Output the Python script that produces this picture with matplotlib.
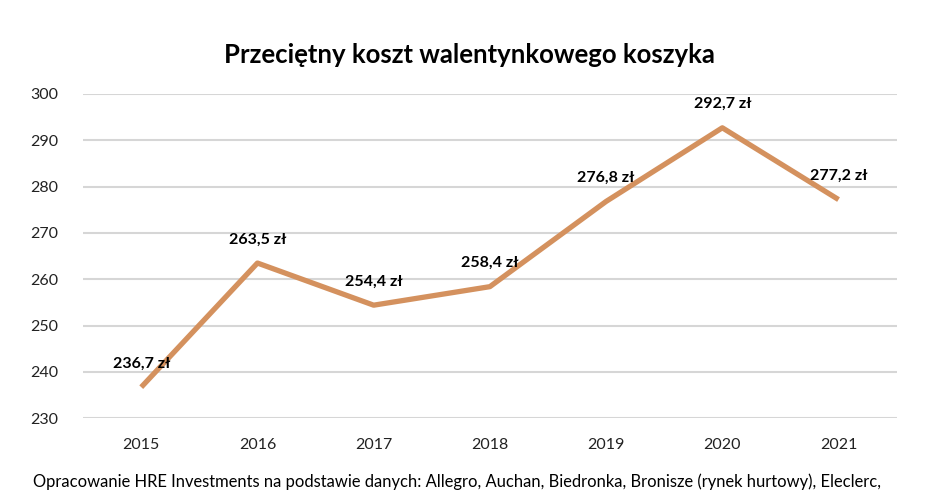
import matplotlib
matplotlib.use("Agg")
import matplotlib.pyplot as plt

plt.rcParams['font.family'] = ['Liberation Sans Narrow', 'Lato', 'DejaVu Sans']

years = ['2015', '2016', '2017', '2018', '2019', '2020', '2021']
cost = [236.7, 263.5, 254.4, 258.4, 276.8, 292.7, 277.2]
labels = ['236,7 zł', '263,5 zł', '254,4 zł', '258,4 zł', '276,8 zł', '292,7 zł', '277,2 zł']
yticks = [230, 240, 250, 260, 270, 280, 290, 300]

fig = plt.figure(figsize=(9.34, 4.92), dpi=100)
ax = fig.add_axes([0.089, 0.150, 0.871, 0.659])

x = list(range(len(years)))
ax.plot(x, cost, color='#D4915E', lw=3.8, solid_capstyle='butt', zorder=3)

for xi, yi, lab in zip(x, cost, labels):
    ax.annotate(lab, (xi, yi), xytext=(0, 17), textcoords='offset points',
                ha='center', va='center', fontsize=11.5, fontweight='bold', color='black', zorder=4)

ax.set_xlim(-0.5, 6.5)
ax.set_ylim(230, 300)
ax.set_yticks(yticks)
ax.set_xticks(x)
ax.set_xticklabels(years)
ax.grid(axis='y', color='#D6D6D6', lw=1.5)
ax.set_axisbelow(True)
for s in ax.spines.values():
    s.set_visible(False)
ax.tick_params(length=0, labelsize=11.5, colors='#222222')
ax.tick_params(axis='x', pad=14)
ax.tick_params(axis='y', pad=18)

fig.text(0.503, 0.888, 'Przeciętny koszt walentynkowego koszyka', ha='center', va='center',
         fontsize=18.5, fontweight='bold')
fig.text(0.035, 0.005, 'Opracowanie HRE Investments na podstawie danych: Allegro, Auchan, Biedronka, Bronisze (rynek hurtowy), Eleclerc,',
         ha='left', va='bottom', fontsize=11.9)

fig.savefig('out.png', dpi=100)
